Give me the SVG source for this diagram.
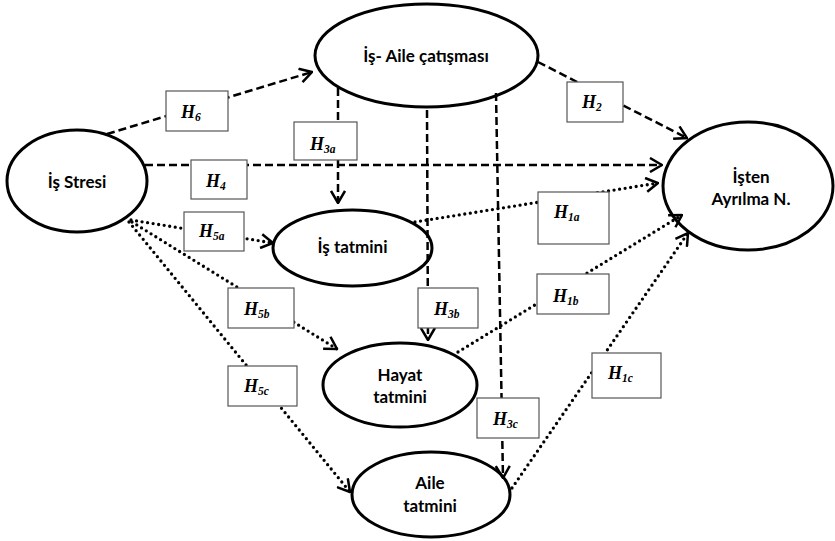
<svg xmlns="http://www.w3.org/2000/svg" width="835" height="541" viewBox="0 0 835 541">
<defs>
<style>
.node{fill:#fff;stroke:#000;stroke-width:3}
.nt{font-family:Lato,"Open Sans","Liberation Sans",sans-serif;font-weight:bold;font-size:17px;fill:#000;text-anchor:middle}
.dash{fill:none;stroke:#000;stroke-width:2.5;stroke-dasharray:8 4}
.dot{fill:none;stroke:#000;stroke-width:3.3;stroke-dasharray:0 5.6;stroke-linecap:round}
.box{fill:#fff;stroke:#555;stroke-width:1.2}
.h{font-family:"Liberation Serif","Times New Roman",serif;font-weight:bold;font-style:italic;font-size:18px;fill:#000}
.sub{font-size:11.5px}
</style>
<marker id="arr" viewBox="0 0 14 16" refX="13" refY="8" markerWidth="14" markerHeight="16" markerUnits="userSpaceOnUse" orient="auto">
<path d="M1,1 L13,8 L1,15" fill="none" stroke="#000" stroke-width="2.5" stroke-dasharray="none"/>
</marker>
</defs>
<rect width="835" height="541" fill="#fff"/>
<g id="nodes">
<g id="is-stresi"><ellipse class="node" cx="77" cy="181" rx="70" ry="51"/><text class="nt" x="77" y="188">İş Stresi</text></g>
<g id="is-aile"><ellipse class="node" cx="426.5" cy="55.5" rx="111.5" ry="51.5"/><text class="nt" x="426" y="62">İş- Aile çatışması</text></g>
<g id="isten"><ellipse class="node" cx="748" cy="186" rx="85" ry="64"/><text class="nt" x="751" y="183">İşten</text><text class="nt" x="751" y="205">Ayrılma N.</text></g>
<g id="is-tatmini"><ellipse class="node" cx="352.5" cy="248" rx="79.5" ry="38"/><text class="nt" x="352.5" y="253">İş tatmini</text></g>
<g id="hayat"><ellipse class="node" cx="400" cy="385" rx="77" ry="42"/><text class="nt" x="400" y="381">Hayat</text><text class="nt" x="400" y="403">tatmini</text></g>
<g id="aile"><ellipse class="node" cx="431" cy="494.5" rx="79" ry="42.5"/><text class="nt" x="430" y="489">Aile</text><text class="nt" x="430" y="512">tatmini</text></g>
</g>
<g id="connectors">
<line class="dash" x1="107" y1="134" x2="312" y2="72" marker-end="url(#arr)"/>
<line class="dash" x1="145" y1="165" x2="662" y2="165" marker-end="url(#arr)"/>
<line class="dash" x1="338" y1="88" x2="338" y2="203" marker-end="url(#arr)"/>
<line class="dash" x1="538" y1="62" x2="687" y2="138" marker-end="url(#arr)"/>
<line class="dash" x1="427" y1="110" x2="428" y2="340" marker-end="url(#arr)"/>
<line class="dash" x1="496" y1="93" x2="503" y2="478" marker-end="url(#arr)"/>
<line class="dot" x1="415" y1="222" x2="658" y2="183" marker-end="url(#arr)"/>
<line class="dot" x1="458" y1="352" x2="682" y2="215" marker-end="url(#arr)"/>
<line class="dot" x1="512" y1="488" x2="688" y2="233" marker-end="url(#arr)"/>
<line class="dot" x1="131" y1="220" x2="273" y2="243" marker-end="url(#arr)"/>
<line class="dot" x1="132" y1="222" x2="337" y2="349" marker-end="url(#arr)"/>
<line class="dot" x1="129" y1="222" x2="350" y2="492" marker-end="url(#arr)"/>
</g>
<g id="labels">
<g id="l-h6"><rect class="box" x="166" y="91" width="62" height="40"/><text class="h" x="181" y="118">H<tspan class="sub" dy="3">6</tspan></text></g>
<g id="l-h3a"><rect class="box" x="294" y="122" width="63" height="38"/><text class="h" x="310" y="150">H<tspan class="sub" dy="3">3a</tspan></text></g>
<g id="l-h4"><rect class="box" x="191" y="160" width="56" height="39"/><text class="h" x="206" y="187">H<tspan class="sub" dy="3">4</tspan></text></g>
<g id="l-h5a"><rect class="box" x="184" y="212" width="60" height="39"/><text class="h" x="199" y="237">H<tspan class="sub" dy="3">5a</tspan></text></g>
<g id="l-h2"><rect class="box" x="567" y="82" width="56" height="40"/><text class="h" x="582" y="108">H<tspan class="sub" dy="3">2</tspan></text></g>
<g id="l-h1a"><rect class="box" x="538" y="192" width="71" height="52"/><text class="h" x="554" y="218">H<tspan class="sub" dy="3">1a</tspan></text></g>
<g id="l-h5b"><rect class="box" x="228" y="288" width="66" height="40"/><text class="h" x="244" y="315">H<tspan class="sub" dy="3">5b</tspan></text></g>
<g id="l-h5c"><rect class="box" x="228" y="366" width="69" height="40"/><text class="h" x="244" y="392">H<tspan class="sub" dy="3">5c</tspan></text></g>
<g id="l-h3b"><rect class="box" x="418" y="288" width="60" height="40"/><text class="h" x="434" y="315">H<tspan class="sub" dy="3">3b</tspan></text></g>
<g id="l-h1b"><rect class="box" x="537" y="274" width="72" height="40"/><text class="h" x="553" y="302">H<tspan class="sub" dy="3">1b</tspan></text></g>
<g id="l-h1c"><rect class="box" x="592" y="353" width="69" height="45"/><text class="h" x="608" y="379">H<tspan class="sub" dy="3">1c</tspan></text></g>
<g id="l-h3c"><rect class="box" x="477" y="398" width="62" height="40"/><text class="h" x="493" y="425">H<tspan class="sub" dy="3">3c</tspan></text></g>
</g>
</svg>
